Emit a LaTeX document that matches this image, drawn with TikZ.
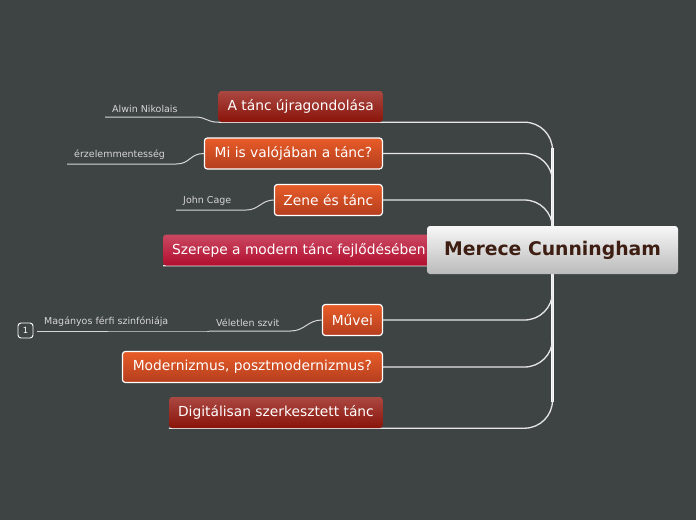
\documentclass[tikz,border=0pt]{standalone}
\usepackage{fontspec}
\setmainfont{DejaVu Sans}
\usepackage{xcolor}
\usepackage{tikz}
\usetikzlibrary{calc}
\usetikzlibrary{backgrounds}

\definecolor{bgcol}{RGB}{62,68,68}
\definecolor{redtop}{RGB}{170,72,66}
\definecolor{redbot}{RGB}{138,20,10}
\definecolor{orangetop}{RGB}{232,92,40}
\definecolor{orangebot}{RGB}{180,62,30}
\definecolor{crimtop}{RGB}{202,72,98}
\definecolor{crimbot}{RGB}{178,14,46}
\definecolor{mainbot}{RGB}{186,186,186}
\definecolor{maintext}{RGB}{62,30,18}
\definecolor{subtext}{RGB}{214,214,214}
\definecolor{linecol}{RGB}{230,230,230}

\tikzset{
  topic/.style={rounded corners=3pt, minimum height=31pt, inner xsep=9pt, anchor=east,
    text=white, font=\fontsize{13.8}{16}\selectfont},
  redtopic/.style={topic, top color=redtop, bottom color=redbot},
  crimtopic/.style={topic, top color=crimtop, bottom color=crimbot},
  orangetopic/.style={topic, draw=white, line width=1.2pt, top color=orangetop, bottom color=orangebot},
  central/.style={rounded corners=3pt, minimum width=251pt, minimum height=48pt,
    top color=white!97!black, bottom color=mainbot, text=maintext,
    font=\bfseries\fontsize{18.8}{22}\selectfont},
  subtopic/.style={anchor=south west, inner xsep=7pt, inner ysep=4.5pt, text=subtext,
    font=\fontsize{9.5}{11}\selectfont},
  badge/.style={draw=white, line width=0.9pt, rounded corners=3pt, minimum width=15pt,
    minimum height=15pt, inner sep=0pt, text=white, font=\fontsize{8.5}{9}\selectfont},
  trunk/.style={white, line width=2.6pt},
  branchline/.style={linecol, line width=1.3pt, rounded corners=28pt},
  subline/.style={subtext, line width=1pt}
}

\begin{document}
\begin{tikzpicture}[x=1pt,y=-1pt]
\useasboundingbox (0,0) rectangle (696,520);
\node[redtopic, minimum width=163pt] (ujra) at (383,106.5) {A tánc újragondolása};
\node[orangetopic, minimum width=178pt] (mi) at (383,153.5) {Mi is valójában a tánc?};
\node[orangetopic, minimum width=108pt] (zene) at (383,200) {Zene és tánc};
\node[crimtopic, anchor=west] (szerep) at (163,250) {Szerepe a modern tánc fejlődésében};
\node[orangetopic, minimum width=60pt] (muvei) at (383,320) {Művei};
\node[orangetopic, minimum width=260pt] (modern) at (383,367) {Modernizmus, posztmodernizmus?};
\node[redtopic, minimum width=213pt] (digit) at (383,412.5) {Digitálisan szerkesztett tánc};
\node[central] (merce) at (552.5,250) {Merece Cunningham};

\node[subtopic] (alwin) at (105,117) {Alwin Nikolais};
\node[subtopic] (erzel) at (67,164) {érzelemmentesség};
\node[subtopic] (cage) at (176,210) {John Cage};
\node[subtopic] (velet) at (209,331) {Véletlen szvit};
\node[subtopic] (magany) at (37,331) {Magányos férfi szinfóniája};
\node[badge] (egy) at (25.5,330.5) {1};

\begin{scope}[on background layer]
\fill[bgcol] (0,0) rectangle (696,520);
\draw[trunk] ($(merce.center |- ujra.south)+(0,26)$) -- ($(merce.center |- digit.south)+(0,-26)$);
\draw[branchline] (merce.center) |- (ujra.south east) -- (ujra.south west);
\draw[branchline] (merce.center) |- (mi.east);
\draw[branchline] (merce.center) |- (zene.east);
\draw[branchline] (merce.center) -- (szerep.south -| merce.center) -- (szerep.south west);
\draw[branchline] (merce.center) |- (muvei.east);
\draw[branchline] (merce.center) |- (modern.east);
\draw[branchline] (merce.center) |- (digit.south east) -- (digit.south west);
\draw[subline] (alwin.south west) -- ($(alwin.south east)+(10,0)$) .. controls +(12,0) and +(-12,0) .. (ujra.south west);
\draw[subline] (erzel.south west) -- ($(erzel.south east)+(4,0)$) .. controls +(14,0) and +(-14,0) .. (mi.west);
\draw[subline] (cage.south west) -- ($(cage.south east)+(8,0)$) .. controls +(12,0) and +(-12,0) .. (zene.west);
\draw[subline] (velet.south west) -- ($(velet.south east)+(4,0)$) .. controls +(14,0) and +(-14,0) .. (muvei.west);
\draw[subline] (magany.south west) -- ($(magany.south east)+(2,0)$) .. controls +(8,0) and +(-8,0) .. (velet.south west);
\end{scope}
\end{tikzpicture}
\end{document}
